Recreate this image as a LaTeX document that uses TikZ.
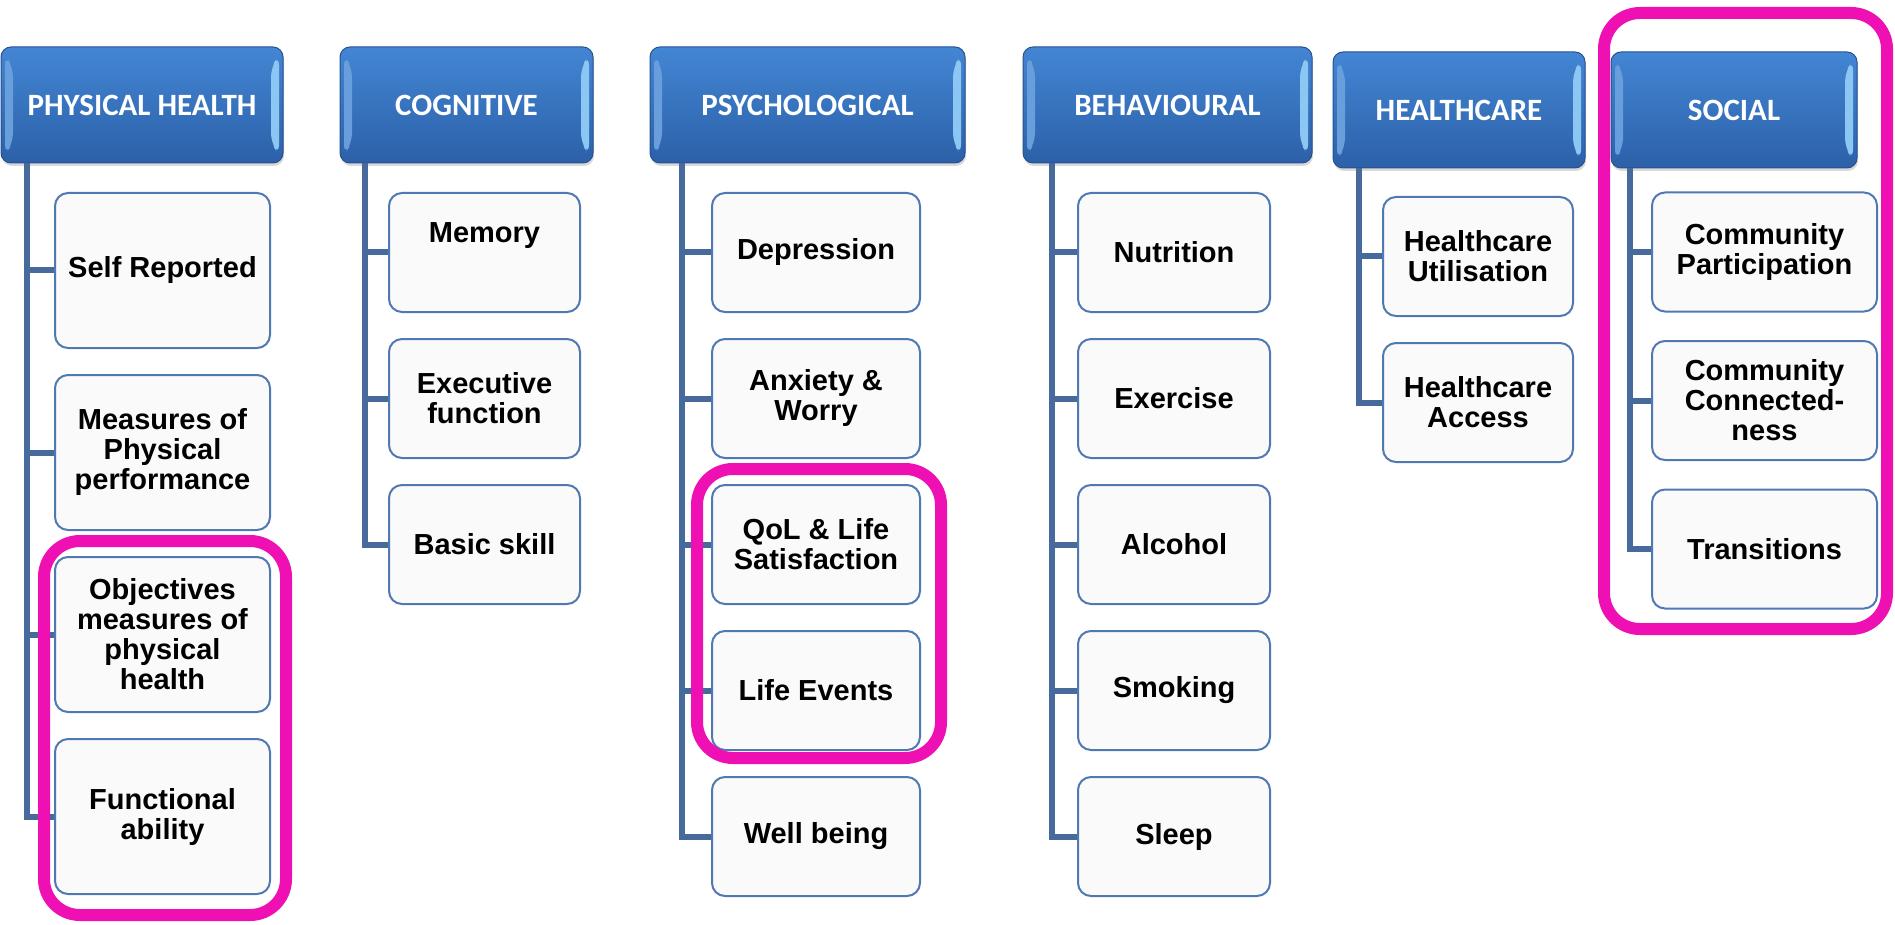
\documentclass[tikz,border=0pt]{standalone}
\usepackage{fontspec}
\setmainfont{Liberation Sans}
\newfontfamily\headfont{Carlito}
\usetikzlibrary{positioning,shadows}

\definecolor{headtop}{RGB}{67,134,212}
\definecolor{headbot}{RGB}{44,96,168}
\definecolor{headrim}{RGB}{38,82,144}
\definecolor{bevelL}{RGB}{104,158,220}
\definecolor{bevelR}{RGB}{140,198,242}
\definecolor{itemrim}{RGB}{80,120,178}
\definecolor{trunkblue}{RGB}{70,106,156}
\definecolor{ringpink}{RGB}{238,16,178}

\tikzset{
  head/.style={rectangle, rounded corners=10pt, draw=headrim, line width=1pt,
    top color=headtop, bottom color=headbot, text=white,
    font=\headfont\bfseries\fontsize{31}{33}\selectfont,
    minimum height=116pt, inner sep=0pt,
    drop shadow={shadow xshift=1pt,shadow yshift=-3pt,opacity=.3},
    path picture={
      % glossy side bevels
      \fill[bevelL] ([xshift=4pt,yshift=-8pt]path picture bounding box.north west)
        -- ++(8pt,-12pt) -- ([xshift=12pt,yshift=20pt]path picture bounding box.south west)
        -- ++(-8pt,-12pt) -- cycle;
      \fill[bevelR] ([xshift=-4pt,yshift=-8pt]path picture bounding box.north east)
        -- ++(-8pt,-12pt) -- ([xshift=-12pt,yshift=20pt]path picture bounding box.south east)
        -- ++(8pt,-12pt) -- cycle;
    }},
  item/.style={rectangle, rounded corners=13pt, draw=itemrim, line width=2pt,
    fill=white!98!black, align=center, inner sep=0pt,
    font=\bfseries\fontsize{29}{30}\selectfont},
  trunk/.style={draw=trunkblue, line width=6pt},
  ring/.style={draw=ringpink, line width=12pt, rounded corners=36pt}
}

\begin{document}
\begin{tikzpicture}[x=1pt,y=-1pt]
\useasboundingbox (0,0) rectangle (1895,925);
% Column headers
\node[head, minimum width=282pt] (ph)  at (142,105)    {PHYSICAL HEALTH};
\node[head, minimum width=253pt] (cog) at (466.5,105)  {COGNITIVE};
\node[head, minimum width=315pt] (psy) at (807.5,105)  {PSYCHOLOGICAL};
\node[head, minimum width=289pt] (beh) at (1167.5,105) {BEHAVIOURAL};
\node[head, minimum width=252pt] (hc)  at (1459,110)   {HEALTHCARE};
\node[head, minimum width=246pt] (soc) at (1734,110)   {SOCIAL};
% Start of each trunk line
\coordinate (phx)  at ([xshift=26pt]ph.south west);
\coordinate (cogx) at ([xshift=25pt]cog.south west);
\coordinate (psyx) at ([xshift=32pt]psy.south west);
\coordinate (behx) at ([xshift=29pt]beh.south west);
\coordinate (hcx)  at ([xshift=26pt]hc.south west);
\coordinate (socx) at ([xshift=19pt]soc.south west);
% Physical health
\node[item, minimum width=215pt, minimum height=155pt] (ph1) at (162.5,270.5) {Self Reported};
\node[item, minimum width=215pt, minimum height=155pt] (ph2) at (162.5,452.5) {Measures of\\Physical\\performance};
\node[item, minimum width=215pt, minimum height=155pt] (ph3) at (162.5,634.5) {Objectives\\measures of\\physical\\health};
\node[item, minimum width=215pt, minimum height=155pt] (ph4) at (162.5,816.5) {Functional\\ability};
% Cognitive
\node[item, minimum width=191pt, minimum height=119pt] (cog1) at (484.5,252.5) {Memory\\\strut};
\node[item, minimum width=191pt, minimum height=119pt] (cog2) at (484.5,398.5) {Executive\\function};
\node[item, minimum width=191pt, minimum height=119pt] (cog3) at (484.5,544.5) {Basic skill};
% Psychological
\node[item, minimum width=208pt, minimum height=119pt] (psy1) at (816,252.5) {Depression};
\node[item, minimum width=208pt, minimum height=119pt] (psy2) at (816,398.5) {Anxiety \&\\Worry};
\node[item, minimum width=208pt, minimum height=119pt] (psy3) at (816,544.5) {QoL \& Life\\Satisfaction};
\node[item, minimum width=208pt, minimum height=119pt] (psy4) at (816,690.5) {Life Events};
\node[item, minimum width=208pt, minimum height=119pt] (psy5) at (816,836.5) {Well being};
% Behavioural
\node[item, minimum width=192pt, minimum height=119pt] (beh1) at (1174,252.5) {Nutrition};
\node[item, minimum width=192pt, minimum height=119pt] (beh2) at (1174,398.5) {Exercise};
\node[item, minimum width=192pt, minimum height=119pt] (beh3) at (1174,544.5) {Alcohol};
\node[item, minimum width=192pt, minimum height=119pt] (beh4) at (1174,690.5) {Smoking};
\node[item, minimum width=192pt, minimum height=119pt] (beh5) at (1174,836.5) {Sleep};
% Healthcare
\node[item, minimum width=190pt, minimum height=119pt] (hc1) at (1478,256.5) {Healthcare\\Utilisation};
\node[item, minimum width=190pt, minimum height=119pt] (hc2) at (1478,402.5) {Healthcare\\Access};
% Social
\node[item, minimum width=225pt, minimum height=119pt] (soc1) at (1764.5,252) {Community\\Participation};
\node[item, minimum width=225pt, minimum height=119pt] (soc2) at (1764.5,400.5) {Community\\Connected-\\ness};
\node[item, minimum width=225pt, minimum height=119pt] (soc3) at (1764.5,549) {Transitions};
% Trunks and branches
\foreach \i in {1,...,4} \draw[trunk] (phx) |- (ph\i.west);
\foreach \i in {1,...,3} \draw[trunk] (cogx) |- (cog\i.west);
\foreach \i in {1,...,5} \draw[trunk] (psyx) |- (psy\i.west);
\foreach \i in {1,...,5} \draw[trunk] (behx) |- (beh\i.west);
\foreach \i in {1,2} \draw[trunk] (hcx) |- (hc\i.west);
\foreach \i in {1,...,3} \draw[trunk] (socx) |- (soc\i.west);
% Highlight frames
\draw[ring] (44,541) rectangle (286,915);
\draw[ring] (697,469) rectangle (941,758);
\draw[ring] (1604,13) rectangle (1887,629);
\end{tikzpicture}
\end{document}
